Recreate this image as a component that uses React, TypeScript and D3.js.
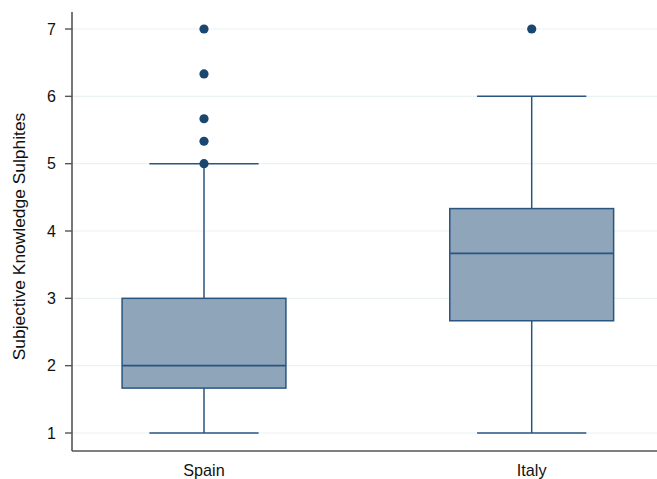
import React from "react";
import * as d3 from "d3";

const categories = ["Spain", "Italy"];
const lowerWhisker = [1, 1];
const q1 = [1.667, 2.667];
const median = [2, 3.667];
const q3 = [3, 4.333];
const upperWhisker = [5, 6];
const outliers: number[][] = [
  [5, 5.333, 5.667, 6.333, 7],
  [7],
];
const yTicks = [1, 2, 3, 4, 5, 6, 7];
const yTitle = "Subjective Knowledge Sulphites";

const W = 657;
const H = 479;
const font = "'Liberation Sans', Arial, Helvetica, sans-serif";

export default function App() {
  const left = 72;
  const right = 664;
  const top = 12;
  const bottom = 451;
  const y = d3.scaleLinear().domain([1, 7]).range([433, 29]);
  const x = d3.scalePoint<string>().domain(categories).range([204, 531.7]);
  const step = x(categories[1])! - x(categories[0])!;
  const boxW = step * 0.5;
  const capW = step / 3;
  const navy = "#1a476f";
  const stroke = "#2a5580";
  const fill = "#8fa5b9";

  return (
    <svg width={W} height={H} style={{ position: "absolute", left: 0, top: 0, background: "#fff" }}>
      <rect x={0} y={0} width={W} height={H} fill="#fff" />
      {yTicks.map((t) => (
        <line key={"g" + t} x1={left} x2={right} y1={y(t)} y2={y(t)} stroke="#eaf2f3" strokeWidth={1.2} />
      ))}
      {categories.map((c, i) => {
        const cx = x(c)!;
        return (
          <g key={c}>
            <line x1={cx} x2={cx} y1={y(q3[i])} y2={y(upperWhisker[i])} stroke={stroke} strokeWidth={1.5} />
            <line x1={cx} x2={cx} y1={y(q1[i])} y2={y(lowerWhisker[i])} stroke={stroke} strokeWidth={1.5} />
            <line x1={cx - capW / 2} x2={cx + capW / 2} y1={y(upperWhisker[i])} y2={y(upperWhisker[i])} stroke={stroke} strokeWidth={1.5} />
            <line x1={cx - capW / 2} x2={cx + capW / 2} y1={y(lowerWhisker[i])} y2={y(lowerWhisker[i])} stroke={stroke} strokeWidth={1.5} />
            <rect x={cx - boxW / 2} y={y(q3[i])} width={boxW} height={y(q1[i]) - y(q3[i])} fill={fill} stroke={stroke} strokeWidth={1.5} />
            <line x1={cx - boxW / 2} x2={cx + boxW / 2} y1={y(median[i])} y2={y(median[i])} stroke={stroke} strokeWidth={1.8} />
            {outliers[i].map((o, j) => (
              <circle key={j} cx={cx} cy={y(o)} r={4.6} fill={navy} />
            ))}
            <text x={cx} y={475.5} textAnchor="middle" fontFamily={font} fontSize={16.2} fill="#111">{c}</text>
          </g>
        );
      })}
      <line x1={left} x2={left} y1={top} y2={bottom} stroke="#555" strokeWidth={1.6} />
      <line x1={left} x2={right} y1={bottom} y2={bottom} stroke="#555" strokeWidth={1.6} />
      {yTicks.map((t) => (
        <g key={"t" + t}>
          <line x1={left - 7} x2={left} y1={y(t)} y2={y(t)} stroke="#555" strokeWidth={1.4} />
          <text x={56} y={y(t)} dy="0.36em" textAnchor="end" fontFamily={font} fontSize={16} fill="#111">{t}</text>
        </g>
      ))}
      <text transform={`translate(24.5,236.5) rotate(-90)`} textAnchor="middle" fontFamily={font} fontSize={17.4} fill="#111">{yTitle}</text>
    </svg>
  );
}
